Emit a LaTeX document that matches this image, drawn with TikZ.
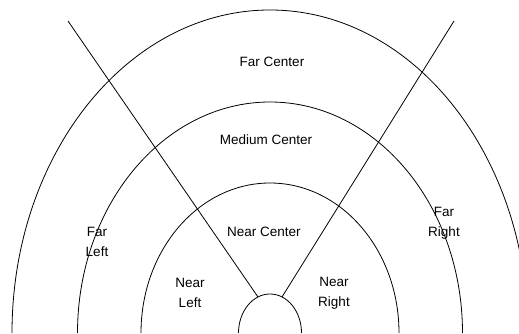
\documentclass[tikz,border=0pt]{standalone}
\usepackage{fontspec}
\setmainfont{Liberation Sans}
\usepackage{tikz}
\usetikzlibrary{positioning,calc}
\tikzset{
  ring/.style={draw=black, line width=0.8pt},
  ray/.style={draw=black, line width=0.8pt},
  zone/.style={align=center, inner sep=1pt, font=\fontsize{13.5}{20}\selectfont}
}

\begin{document}
\begin{tikzpicture}[x=1pt, y=1pt]
\useasboundingbox (0,0) rectangle (519,333);
\clip (0,0) rectangle (519,333);
% rings round the car, centre at the bottom
\coordinate (c) at (270,0);
\draw[ring] ($(c)+(-258,0)$) arc[start angle=180, end angle=0, x radius=258, y radius=323];
\draw[ring] ($(c)+(-192.5,0)$) arc[start angle=180, end angle=0, x radius=192.5, y radius=231];
\draw[ring] ($(c)+(-129,0)$) arc[start angle=180, end angle=0, x radius=129, y radius=150];
\draw[ring] ($(c)+(-31.5,0)$) arc[start angle=180, end angle=0, x radius=31.5, y radius=39];
% sector borders
\coordinate (lt) at (68,312);
\coordinate (lb) at (258,36);
\coordinate (rt) at (454,312);
\coordinate (rb) at (282,36);
\draw[ray] (lt) -- (lb);
\draw[ray] (rt) -- (rb);
% zone names
\node[zone] (farc) at (272,271) {Far Center};
\node[zone] (medc) at (266,193) {Medium Center};
\node[zone] (nearc) at (264,101) {Near Center};
\node[zone] (farl) at (97,91) {Far\\Left};
\node[zone] (farr) at (444,110) {Far\\Right};
\node[zone] (nearl) at (190,40) {Near\\Left};
\node[zone] (nearr) at (334,40) {Near\\Right};
\end{tikzpicture}
\end{document}
